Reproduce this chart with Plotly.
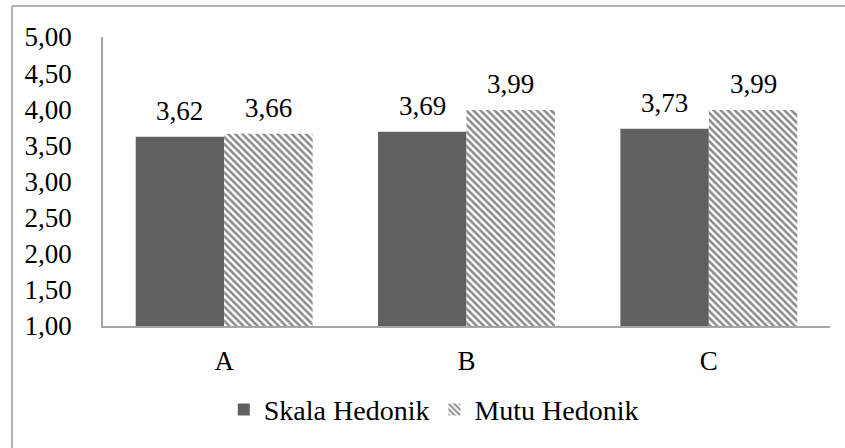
import plotly.graph_objects as go

categories = ["A", "B", "C"]
skala_hedonik = [3.62, 3.69, 3.73]
mutu_hedonik = [3.66, 3.99, 3.99]
y_ticks = [1.0, 1.5, 2.0, 2.5, 3.0, 3.5, 4.0, 4.5, 5.0]

FONT = "Liberation Serif"
W, H = 845, 448
ML, MR, MT, MB = 103, 15, 37, 122
PW, PH = W - ML - MR, H - MT - MB

fig = go.Figure()
fig.add_trace(go.Bar(
    name="Skala Hedonik", x=categories, y=skala_hedonik,
    marker=dict(color="#606060", line=dict(width=0)),
))
fig.add_trace(go.Bar(
    name="Mutu Hedonik", x=categories, y=mutu_hedonik,
    marker=dict(color="white", line=dict(width=0),
                pattern=dict(shape="\\", fgcolor="#8a8a8a", bgcolor="white",
                             size=5, solidity=0.5, fillmode="replace")),
))

bar_w = PW / 3 * (1 - 0.27) / 2
for vals, sgn in ((skala_hedonik, -1), (mutu_hedonik, 1)):
    for c, v in zip(categories, vals):
        fig.add_annotation(
            x=c, y=v, xref="x", yref="y", text=f"{v:.2f}".replace(".", ","),
            showarrow=False, xshift=sgn * bar_w / 2, yshift=9, yanchor="bottom",
            font=dict(family=FONT, size=27, color="#000000"),
        )

# outer frame (only left and top edges visible in the crop)
fx0 = (12 - ML) / PW
fy1 = (H - MB - 6) / PH
fig.add_shape(type="line", xref="paper", yref="paper",
              x0=fx0, x1=fx0, y0=-1.0, y1=fy1,
              line=dict(color="#9a9a9a", width=1.5), layer="below")
fig.add_shape(type="line", xref="paper", yref="paper",
              x0=fx0, x1=(W + 30 - ML) / PW, y0=fy1, y1=fy1,
              line=dict(color="#9a9a9a", width=1.5), layer="below")

fig.update_layout(
    width=W, height=H,
    margin=dict(l=ML, r=MR, t=MT, b=MB),
    paper_bgcolor="white", plot_bgcolor="white",
    separators=",.",
    barmode="group", bargap=0.27, bargroupgap=0,
    font=dict(family=FONT, size=27, color="#000000"),
    showlegend=True,
    legend=dict(orientation="h", x=0.455, xanchor="center", y=-0.29, yanchor="middle",
                font=dict(family=FONT, size=28), itemwidth=30, traceorder="normal",
                bgcolor="rgba(0,0,0,0)"),
    xaxis=dict(showline=True, linecolor="#a6a6a6", linewidth=1.5, showgrid=False,
               ticks="", tickfont=dict(family=FONT, size=27), ticklabelstandoff=10),
    yaxis=dict(range=[1, 5], tickvals=y_ticks, tickformat=".2f", showline=True,
               linecolor="#a6a6a6", linewidth=1.5, showgrid=False, zeroline=False,
               ticks="", tickfont=dict(family=FONT, size=27), ticklabelstandoff=24),
)

fig.write_html(
    "out.html", config={"displayModeBar": False},
    post_script=("document.body.style.margin='0';"
                 "document.body.style.overflow='hidden';"
                 "document.documentElement.style.overflow='hidden';"),
)
